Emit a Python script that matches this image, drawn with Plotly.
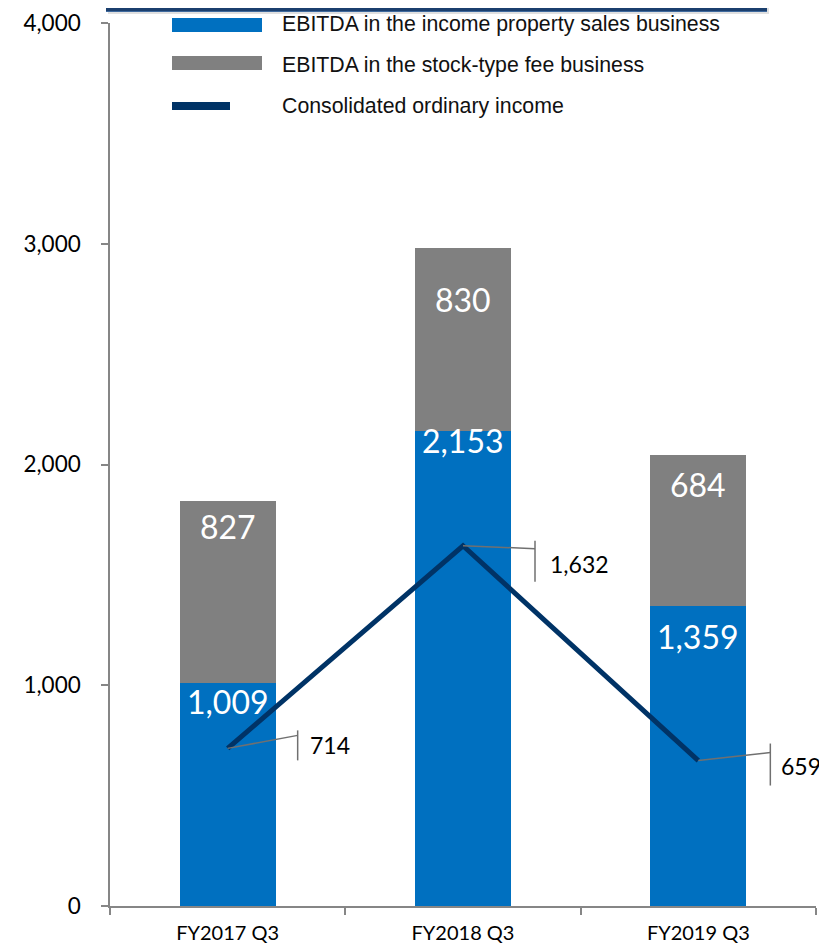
import plotly.graph_objects as go

# ---- data ----
categories = ["FY2017 Q3", "FY2018 Q3", "FY2019 Q3"]
ebitda_sales = [1009, 2153, 1359]
ebitda_fee = [827, 830, 684]
ordinary_income = [714, 1632, 659]
y_ticks = [0, 1000, 2000, 3000, 4000]

legend_names = ["EBITDA in the income property sales business",
                "EBITDA in the stock-type fee business",
                "Consolidated ordinary income"]

# ---- style ----
BLUE = "#0070C0"
GRAY = "#808080"
NAVY = "#003366"
LEADER = "#707070"
NUM_FONT = "Lato"
LEG_FONT = "Liberation Sans"

OFF = 8  # page body margin offset
W, H = 827 - OFF, 944 - OFF
L, R, T, B = 110 - OFF, 11, 23 - OFF, 38
PW, PH = W - L - R, H - T - B

def px(x):
    return (x - OFF - L) / PW

def py(y):
    return (H - B - (y - OFF)) / PH

fig = go.Figure()
fig.add_trace(go.Bar(x=categories, y=ebitda_sales, marker_color=BLUE,
                     marker_line_width=0, name=legend_names[0], showlegend=False))
fig.add_trace(go.Bar(x=categories, y=ebitda_fee, marker_color=GRAY,
                     marker_line_width=0, name=legend_names[1], showlegend=False))
fig.add_trace(go.Scatter(x=categories, y=ordinary_income, mode="lines",
                         line=dict(color=NAVY, width=5), name=legend_names[2],
                         showlegend=False))

# bar value labels (pixel offsets below segment top)
sales_off = [18, 10, 30]
fee_off = [26, 52, 29]
annotations = []
shapes = []
for i in range(len(categories)):
    annotations.append(dict(x=i, y=ebitda_sales[i], text=f"{ebitda_sales[i]:,}",
                            showarrow=False, yanchor="middle", yshift=-sales_off[i],
                            font=dict(family=NUM_FONT, size=32, color="white")))
    top = ebitda_sales[i] + ebitda_fee[i]
    annotations.append(dict(x=i, y=top, text=f"{ebitda_fee[i]:,}",
                            showarrow=False, yanchor="middle", yshift=-fee_off[i],
                            font=dict(family=NUM_FONT, size=32, color="white")))

# line value labels with leader brackets (pixel offsets)
lead_end = [(70, 13), (72, -3), (72, 8)]
lead_tick = [(18, -12), (5, -36), (17, -25)]
text_off = [(81, 3), (86, -18), (82, -5)]
for i, v in enumerate(ordinary_income):
    ex, ey = lead_end[i]
    shapes.append(dict(type="line", xref="x", yref="y", xsizemode="pixel",
                       ysizemode="pixel", xanchor=i, yanchor=v,
                       x0=0, y0=0, x1=ex, y1=ey,
                       line=dict(color=LEADER, width=1.5)))
    t0, t1 = lead_tick[i]
    shapes.append(dict(type="line", xref="x", yref="y", xsizemode="pixel",
                       ysizemode="pixel", xanchor=i, yanchor=v,
                       x0=ex, y0=t0, x1=ex, y1=t1,
                       line=dict(color=LEADER, width=1.5)))
    tx, ty = text_off[i]
    annotations.append(dict(x=i, y=v, text=f"{v:,}", showarrow=False,
                            xanchor="left", yanchor="middle", xshift=tx, yshift=ty,
                            borderpad=0,
                            font=dict(family=NUM_FONT, size=23, color="black")))

# top dark banner edge with shadow (visible part only)
shapes.append(dict(type="rect", xref="paper", yref="paper", layer="below",
                   x0=px(108), x1=px(769), y0=py(14), y1=py(8),
                   fillcolor="rgba(0,0,0,0.12)", line_width=0))
shapes.append(dict(type="rect", xref="paper", yref="paper",
                   x0=px(106), x1=px(767), y0=py(11.5), y1=py(7),
                   fillcolor="#1B3F6E", line_width=0))
shapes.append(dict(type="line", xref="paper", yref="paper",
                   x0=px(106), x1=px(767), y0=py(11.5), y1=py(11.5),
                   line=dict(color="#3F6A9E", width=1)))

# custom legend
leg_items = [(BLUE, 18, 32, 262, 24), (GRAY, 56, 70, 262, 65), (NAVY, 102, 110, 230, 106)]
for (col, y0, y1, x1, ty), name in zip(leg_items, legend_names):
    shapes.append(dict(type="rect", xref="paper", yref="paper",
                       x0=px(172), x1=px(x1), y0=py(y1), y1=py(y0),
                       fillcolor=col, line_width=0))
    annotations.append(dict(xref="paper", yref="paper", x=px(280), y=py(ty),
                            text=name, showarrow=False, xanchor="left",
                            yanchor="middle",
                            font=dict(family=LEG_FONT, size=21.3, color="#111111")))

fig.update_layout(
    barmode="stack",
    bargap=0.592,
    width=W, height=H,
    margin=dict(l=L, r=R, t=T, b=B, autoexpand=False),
    plot_bgcolor="white", paper_bgcolor="white",
    shapes=shapes, annotations=annotations,
    showlegend=False,
    xaxis=dict(type="category", range=[-0.5, 2.5], tickson="boundaries",
               ticks="outside", ticklen=7, tickcolor="#868686", tickwidth=1.5,
               showline=True, linecolor="#868686", linewidth=1.5,
               showgrid=False, zeroline=False, automargin=False,
               ticklabelstandoff=8,
               tickfont=dict(family=NUM_FONT, size=20, color="black")),
    yaxis=dict(range=[0, 4000], tickvals=y_ticks, tickformat=",d",
               ticks="outside", ticklen=7, tickcolor="#868686", tickwidth=1.5,
               showline=True, linecolor="#868686", linewidth=1.5,
               showgrid=False, zeroline=False, automargin=False,
               ticklabelstandoff=16,
               tickfont=dict(family=NUM_FONT, size=22.5, color="black")),
)

fig.write_html("out.html")
